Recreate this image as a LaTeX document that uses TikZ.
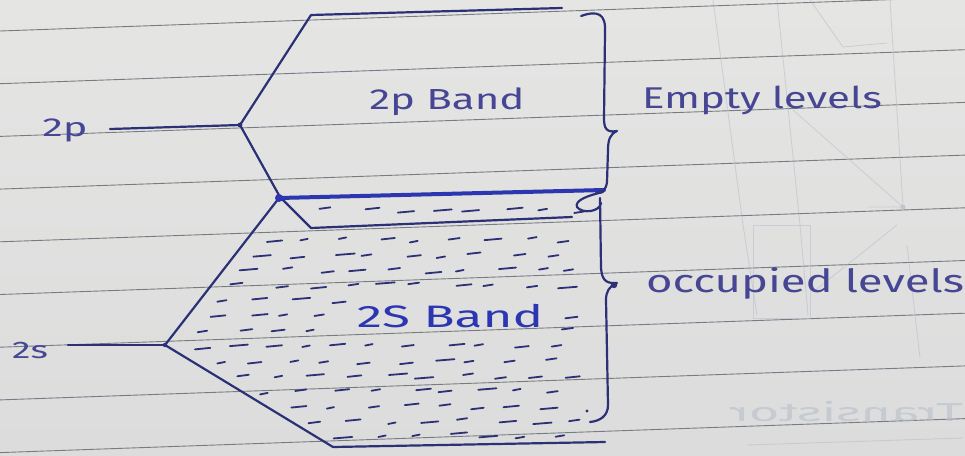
\documentclass[tikz,border=0pt]{standalone}
\usepackage{fontspec}
\setmainfont{Fira Sans}

\definecolor{paper}{RGB}{229,230,228}
\definecolor{paperlow}{RGB}{219,220,219}
\definecolor{rule}{RGB}{120,124,130}
\definecolor{ink}{RGB}{44,48,118}
\definecolor{inkbright}{RGB}{44,54,176}
\definecolor{pen}{RGB}{70,70,148}
\definecolor{ghost}{RGB}{184,190,202}

\tikzset{
  ruled/.style={draw=rule, line width=0.9pt},
  stroke/.style={draw=ink, line width=2.2pt, line cap=round, line join=round},
  heavy/.style={draw=inkbright, line width=4pt, line cap=round},
  hatch/.style={draw=ink, line width=1.8pt, line cap=round},
  bracestroke/.style={draw=ink, line width=2.2pt, line cap=round, line join=round},
  hand/.style={text=pen, inner sep=0pt, anchor=center},
  ghostline/.style={draw=ghost, line width=0.9pt, opacity=0.55},
}

\begin{document}
\begin{tikzpicture}[x=1pt,y=-1pt]
\useasboundingbox (0,0) rectangle (965,455);
\clip (0,0) rectangle (965,455);

% sheet of ruled paper
\shade[top color=paper, bottom color=paperlow] (0,0) rectangle (965,455);
\foreach \k in {0,...,8} {
  \draw[ruled] (0,{31+52.7*\k}) -- (965,{31+52.7*\k-34});
}

% faint sketch showing through from the back of the sheet
\draw[ghostline] (713,0) -- (743,225) -- (757,315);
\draw[ghostline] (777,0) -- (800,225) -- (808,315);
\draw[ghostline] (810,0) -- (843,47) -- (887,43);
\draw[ghostline] (890,0) -- (903,207);
\draw[ghostline] (793,110) -- (903,207) -- (868,207);
\draw[ghostline] (907,245) -- (920,358);
\draw[ghostline] (813,292) -- (897,225);
\draw[ghostline] (753,225) rectangle (810,318);
\draw[ghostline] (747,445) -- (963,438);
\fill[ghost, opacity=0.7] (903,207) circle (2.5);
\node[text=ghost, opacity=0.6, inner sep=0pt] (ghosttext) at (846,412)
  {\fontsize{26}{26}\selectfont\scalebox{-2}[1]{Transistor}};

% corner points of the two bands
\coordinate (pTL) at (311,15);
\coordinate (pTR) at (562,8);
\coordinate (pL)  at (240,125);
\coordinate (pKink) at (280,197);
\coordinate (pIn) at (311,228);
\coordinate (iR)  at (572,217);
\coordinate (pBL) at (279,198);
\coordinate (pBR) at (604,190);
\coordinate (sL)  at (165,345);
\coordinate (sBL) at (333,447);
\coordinate (sBR) at (605,442);
\coordinate (p2end) at (110,129);
\coordinate (s2end) at (68,345);

% 2p band
\draw[stroke] (pTR) -- (pTL) -- (pL) -- (pKink) -- (pIn) -- (iR);
\draw[stroke] (p2end) -- (pL);
\fill[ink] (pL) circle (2.4);

% 2s band
\draw[stroke] (pBL) -- (sL) -- (sBL) -- (sBR);
\draw[stroke] (s2end) -- (sL);
\fill[ink] (sL) circle (2.2);
\draw[heavy] (pBL) -- (pBR);
\fill[inkbright] (pBL) circle (4);

% filled levels of the 2s band
\pgfmathsetseed{42}
\foreach \yy in {211,240,256,271,286,301,316,331,347,362,377,392,407,422,436} {
  \pgfmathsetmacro{\xl}{\yy<228 ? 300 : (\yy<345 ? 165+(345-\yy)*0.777 : 165+(\yy-345)*1.647)}
  \foreach \k in {0,...,12} {
    \pgfmathsetmacro{\xx}{\xl+16+\k*36+rnd*14}
    \pgfmathsetmacro{\dl}{7+rnd*12}
    \pgfmathsetmacro{\dy}{rnd*5-2.5}
    \pgfmathtruncatemacro{\ok}{(\xx+\dl<585) && !((\xx+\dl>348) && (\xx<552) && (\yy>298) && (\yy<336))}
    \ifnum\ok=1 \draw[hatch] (\xx,\yy+\dy) -- ++(\dl,-1.5); \fi
  }
}

% braces
\coordinate (bTop) at (581,16);
\coordinate (bTip) at (617,131);
\coordinate (bMid) at (596,193);
\coordinate (cTop) at (600,198);
\coordinate (cTip) at (617,283);
\coordinate (cEnd) at (590,422);
\draw[bracestroke] (bTop) .. controls (598,10) and (606,14) .. (605,32)
  -- (604,118) .. controls (604,128) and (606,133) .. (bTip)
  .. controls (610,134) and (608,140) .. (608,150)
  -- (607,182) .. controls (606,190) and (602,193) .. (bMid);
\draw[bracestroke] (603,192) .. controls (590,195) and (574,200) .. (577,207)
  .. controls (582,214) and (600,212) .. (601,203);
\draw[bracestroke] (cTop) -- (601,268) .. controls (602,278) and (604,284) .. (cTip)
  .. controls (609,286) and (606,292) .. (606,300)
  -- (608,405) .. controls (608,416) and (600,421) .. (cEnd);
\fill[ink] (614,285) circle (3.2);
\fill[ink] (587,411) circle (1.6);

% labels
\node[hand] (l2p) at (65,130) {\fontsize{26}{26}\selectfont\scalebox{1.6}[1]{2p}};
\node[hand] (l2s) at (30,350) {\fontsize{24}{24}\selectfont\scalebox{1.55}[1]{2s}};
\node[hand] (band2p) at (447,102) {\fontsize{29}{29}\selectfont\scalebox{1.45}[1]{2p Band}};
\node[hand, text=inkbright] (band2s) at (450,316) {\fontsize{31}{31}\selectfont\scalebox{1.65}[1]{2S Band}};
\node[hand] (empty) at (762,100) {\fontsize{30}{30}\selectfont\scalebox{1.4}[1]{Empty levels}};
\node[hand] (occupied) at (805,283) {\fontsize{32}{32}\selectfont\scalebox{1.42}[1]{occupied levels}};
\end{tikzpicture}
\end{document}
